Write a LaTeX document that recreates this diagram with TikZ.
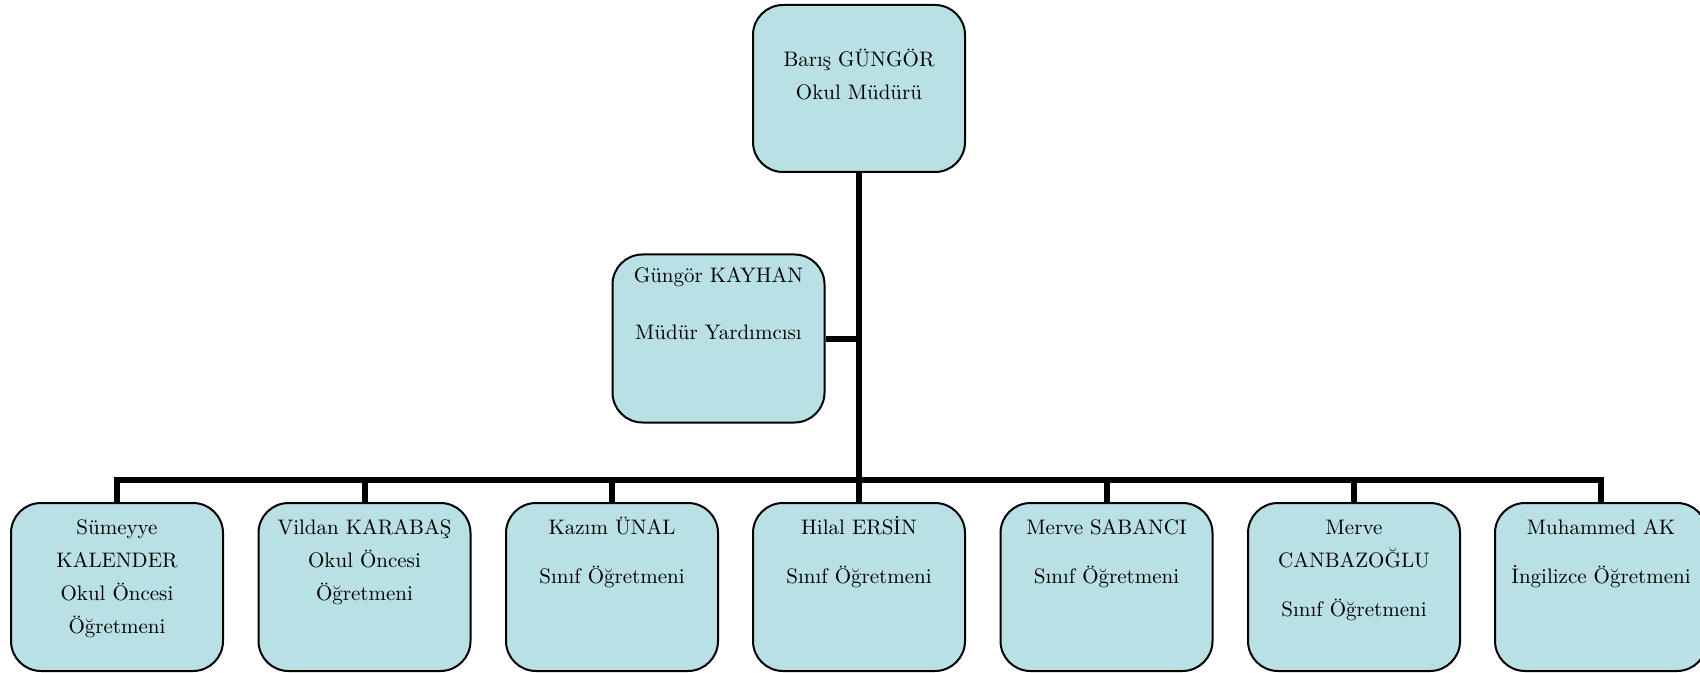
\documentclass[tikz,border=0pt]{standalone}
\definecolor{kutumavi}{RGB}{185,224,228}
\tikzset{
  kutu/.style={draw=black,line width=1pt,fill=kutumavi,rounded corners=15pt,
    inner sep=0pt,text width=106pt,align=center,
    font=\fontsize{10.5}{16.5}\selectfont},
  hat/.style={line width=3pt,line join=miter}
}
\begin{document}
\begin{tikzpicture}[x=0.5pt,y=-0.5pt]
      \useasboundingbox (0,0) rectangle (1700,673);
      %mudur
      \node[kutu,text height=31pt,text depth=52.5pt] (mudur) at (859,88.5) {Barış GÜNGÖR\\Okul Müdürü};
      \node[kutu,text height=14pt,text depth=70pt] (yardimci) at (718.5,338.5) {Güngör KAYHAN\hspace*{10pt}\\[12pt]Müdür Yardımcısı};
      %ogretmenler
      \node[kutu,text height=15.5pt,text depth=68.5pt] (ogr1) at (117,587) {Sümeyye\\KALENDER\\Okul Öncesi\\Öğretmeni};
      \node[kutu,text height=15.5pt,text depth=68.5pt] (ogr2) at (364.5,587) {Vildan KARABAŞ\\Okul Öncesi\\Öğretmeni};
      \node[kutu,text height=15.5pt,text depth=68.5pt] (ogr3) at (612,587) {Kazım ÜNAL\\[8pt]Sınıf Öğretmeni};
      \node[kutu,text height=15.5pt,text depth=68.5pt] (ogr4) at (859,587) {Hilal ERSİN\\[8pt]Sınıf Öğretmeni};
      \node[kutu,text height=15.5pt,text depth=68.5pt] (ogr5) at (1106.5,587) {Merve SABANCI\\[8pt]Sınıf Öğretmeni};
      \node[kutu,text height=15.5pt,text depth=68.5pt] (ogr6) at (1354,587) {Merve\\CANBAZOĞLU\\[8pt]Sınıf Öğretmeni};
      \node[kutu,text height=15.5pt,text depth=68.5pt] (ogr7) at (1601,587) {Muhammed AK\\[8pt]İngilizce Öğretmeni};
      %baglantilar
      \coordinate (bus) at (859,480);
      \draw[hat] (mudur.south) -- (bus);
      \draw[hat] (yardimci.east) -- (yardimci.east -| bus);
      \draw[hat] (ogr1.north) -- (ogr1.north |- bus) -- (ogr7.north |- bus) -- (ogr7.north);
      \foreach \i in {2,...,6}
        \draw[hat] (ogr\i.north |- bus) -- (ogr\i.north);
\end{tikzpicture}
\end{document}
